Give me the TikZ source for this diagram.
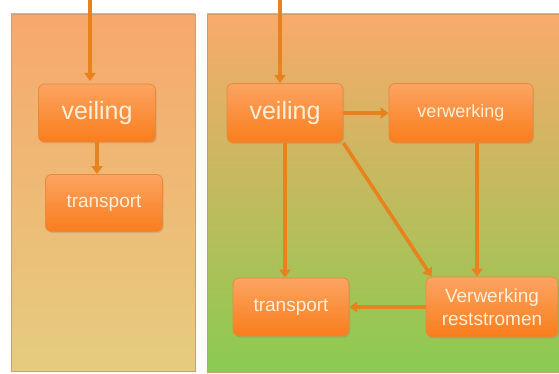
\documentclass[tikz,border=0pt]{standalone}
\usepackage{fontspec}
\setmainfont{Liberation Sans}
\usetikzlibrary{arrows.meta,shadows}
\definecolor{pijl}{HTML}{E8821E}
\definecolor{knoopboven}{HTML}{FBA461}
\definecolor{knooponder}{HTML}{FA7D1C}
\definecolor{knooprand}{HTML}{E88A3C}
\definecolor{tekst}{HTML}{FFEFD8}
\tikzset{
  stap/.style={rounded corners=6pt, top color=knoopboven, bottom color=knooponder,
    draw=knooprand, line width=0.8pt, text=tekst, align=center, inner sep=0pt,
    font=\fontsize{19}{20}\selectfont, drop shadow={opacity=0.25, shadow xshift=1pt, shadow yshift=-1.5pt}},
  pijlstijl/.style={draw=pijl, line width=3.6pt, -{Triangle[width=11pt,length=8pt]}}
}
\begin{document}
\begin{tikzpicture}[x=1pt, y=-1pt]
\useasboundingbox (0,0) rectangle (559,374);
% panelen
\shade[top color={rgb,255:red,247;green,168;blue,108}, bottom color={rgb,255:red,229;green,204;blue,128}, draw={rgb,255:red,200;green,160;blue,120}, line width=0.6pt]
  (11,14) rectangle (195,371);
\shade[top color={rgb,255:red,249;green,170;blue,108}, middle color={rgb,255:red,210;green,190;blue,96}, bottom color={rgb,255:red,138;green,203;blue,80}, draw={rgb,255:red,200;green,160;blue,100}, line width=0.6pt]
  (207,14) rectangle (562,372);
% links
\node[stap, minimum width=117pt, minimum height=58pt, font=\fontsize{25}{26}\selectfont] (veilingL) at (97,113) {veiling};
\node[stap, minimum width=117pt, minimum height=57pt] (transportL) at (104,203) {transport};
\coordinate (inL) at (90,0);
\draw[pijlstijl] (inL) -- (90,81);
\draw[pijlstijl] (97,142) -- (transportL.north -| 97,0);
% rechts
\node[stap, minimum width=116pt, minimum height=59pt, font=\fontsize{25}{26}\selectfont] (veilingR) at (285,113) {veiling};
\node[stap, minimum width=144pt, minimum height=59pt, font=\fontsize{18}{19}\selectfont] (verwerking) at (461,113) {verwerking};
\node[stap, minimum width=116pt, minimum height=58pt] (transportR) at (291,307) {transport};
\node[stap, minimum width=132pt, minimum height=60pt, font=\fontsize{19}{23}\selectfont] (rest) at (492,307) {Verwerking\\reststromen};
\coordinate (inR) at (280,0);
\draw[pijlstijl] (inR) -- (veilingR.north -| inR);
\draw[pijlstijl] (veilingR) -- (verwerking);
\draw[pijlstijl] (veilingR.south) -- (transportR.north -| veilingR.south);
\draw[pijlstijl] (veilingR.south east) -- ([xshift=6pt]rest.north west);
\draw[pijlstijl] (verwerking.south -| 477,0) -- (rest.north -| 477,0);
\draw[pijlstijl] (rest) -- (transportR);
\end{tikzpicture}
\end{document}
